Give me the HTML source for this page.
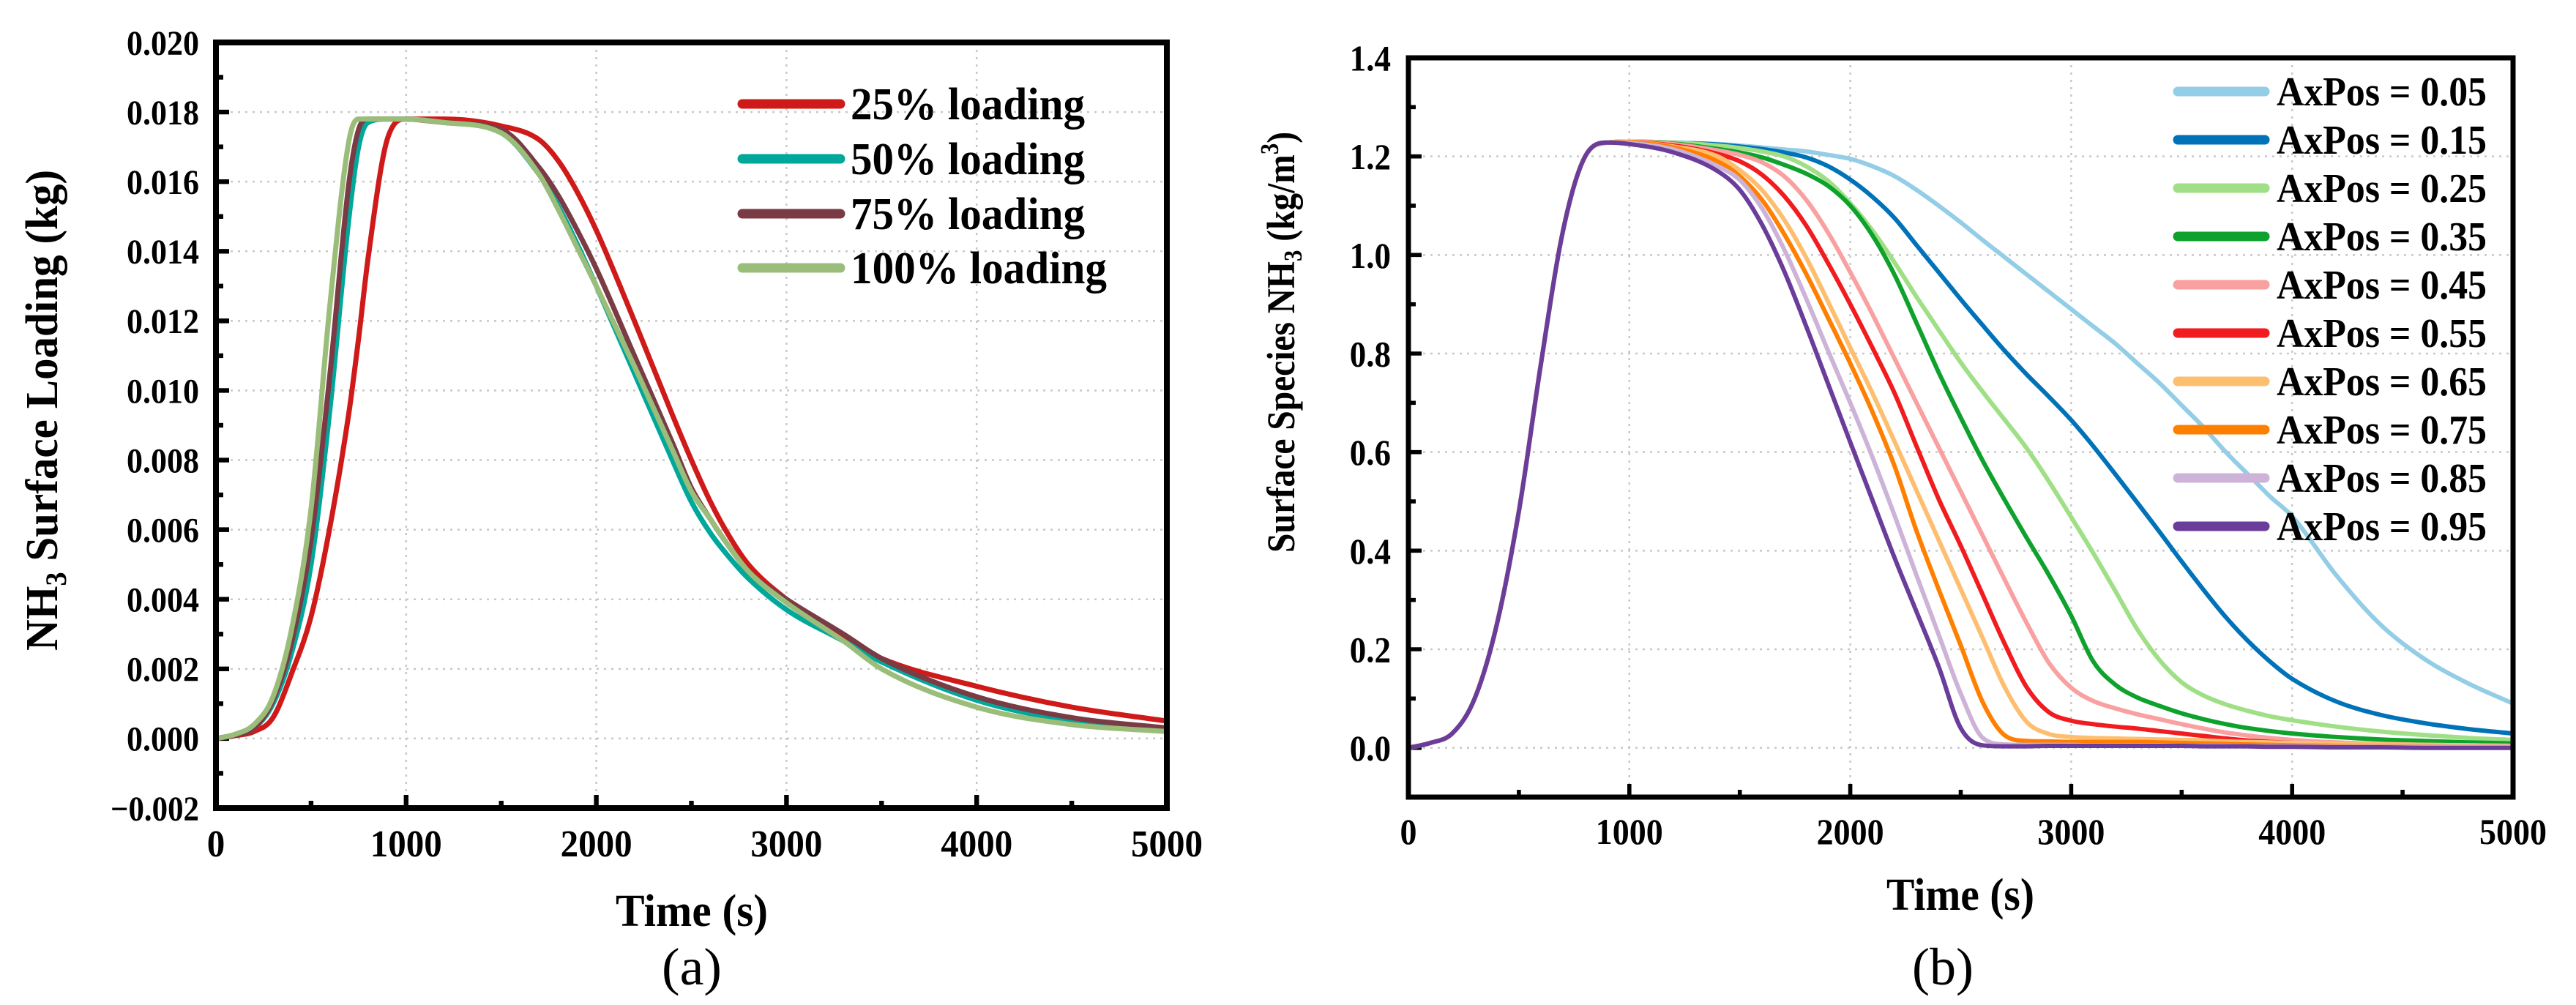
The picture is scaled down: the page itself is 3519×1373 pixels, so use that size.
<!DOCTYPE html>
<html><head><meta charset="utf-8"><title>NH3 surface loading charts</title>
<style>
html,body{margin:0;padding:0;background:#fff;}
svg{display:block;font-family:"Liberation Serif","Times New Roman",serif;}
</style></head>
<body>
<svg id="fig" width="3519" height="1373" viewBox="0 0 3519 1373" xmlns="http://www.w3.org/2000/svg" font-family="Liberation Serif, Times New Roman, serif">
<rect width="3519" height="1373" fill="#fff"/>
<g id="chartA"></g>
<g id="chartB"></g>
</svg>
<script>
// ---------- Chart (a) data ----------
const timesA = [0,100,200,300,400,500,600,700,750,800,900,1000,1200,1500,1700,1800,1900,2000,2200,2400,2500,2600,2700,2800,3000,3300,3500,4000,4500,5000];
const labelsA = ["25% loading","50% loading","75% loading","100% loading"];
const load25 = [0,0.00008,0.0002,0.0006,0.0019,0.0035,0.0061,0.0094,0.0115,0.0138,0.0172,0.0178,0.0178,0.0176,0.0172,0.0166,0.0157,0.0146,0.0120,0.0093,0.0080,0.0068,0.0058,0.0050,0.0040,0.0029,0.0023,0.0015,0.0009,0.0005];
const load50 = [0,0.0001,0.0003,0.0010,0.0025,0.0050,0.0095,0.0150,0.0170,0.0177,0.0178,0.0178,0.0177,0.0174,0.0162,0.0153,0.0142,0.0130,0.0105,0.0080,0.0068,0.0059,0.0052,0.0046,0.0037,0.0028,0.0022,0.0011,0.0005,0.0002];
const load75 = [0,0.0001,0.0003,0.0011,0.0028,0.0057,0.0105,0.0160,0.0175,0.0178,0.0178,0.0178,0.0177,0.0175,0.0164,0.0156,0.0146,0.0135,0.0110,0.0085,0.0072,0.0063,0.0055,0.0048,0.0040,0.0030,0.0023,0.0012,0.0006,0.0003];
const load100 = [0,0.00012,0.0004,0.0012,0.0032,0.0066,0.0125,0.0172,0.0178,0.0178,0.0178,0.0178,0.0177,0.0174,0.0162,0.0152,0.0141,0.0130,0.0107,0.0083,0.0071,0.0063,0.0055,0.0048,0.0039,0.0028,0.0020,0.0009,0.0004,0.0002];
const xTicksA = [0,1000,2000,3000,4000,5000];
const yTicksA = [-0.002,0,0.002,0.004,0.006,0.008,0.010,0.012,0.014,0.016,0.018,0.020];
const yTickLabelsA = ["\u22120.002","0.000","0.002","0.004","0.006","0.008","0.010","0.012","0.014","0.016","0.018","0.020"];

// ---------- Chart (b) data ----------
const timesB = [0,100,200,300,400,500,600,700,800,900,1000,1200,1400,1500,1600,1700,1800,1900,2000,2100,2200,2300,2400,2500,2600,2700,2800,2900,3000,3100,3200,3300,3400,3500,3600,3700,3800,3900,4000,4200,4400,4600,4800,5000];
const riseB = [0,0.01,0.03,0.10,0.25,0.48,0.78,1.05,1.20,1.228];
const labelsB = ["AxPos = 0.05","AxPos = 0.15","AxPos = 0.25","AxPos = 0.35","AxPos = 0.45","AxPos = 0.55","AxPos = 0.65","AxPos = 0.75","AxPos = 0.85","AxPos = 0.95"];
const ax05 = [1.230,1.228,1.225,1.222,1.218,1.214,1.210,1.203,1.195,1.180,1.160,1.132,1.100,1.066,1.030,0.995,0.960,0.925,0.890,0.855,0.820,0.780,0.740,0.695,0.650,0.600,0.555,0.510,0.470,0.350,0.250,0.180,0.130,0.090];
const ax15 = [1.230,1.228,1.224,1.220,1.215,1.208,1.198,1.180,1.153,1.118,1.075,1.020,0.965,0.910,0.857,0.805,0.757,0.712,0.665,0.612,0.555,0.497,0.438,0.378,0.320,0.265,0.217,0.175,0.140,0.094,0.067,0.050,0.038,0.029];
const ax25 = [1.230,1.228,1.222,1.217,1.210,1.200,1.180,1.150,1.105,1.050,0.985,0.915,0.848,0.782,0.722,0.665,0.607,0.540,0.468,0.395,0.318,0.240,0.178,0.133,0.106,0.088,0.075,0.064,0.056,0.043,0.033,0.026,0.020,0.016];
const ax35 = [1.230,1.226,1.215,1.208,1.198,1.183,1.165,1.140,1.100,1.040,0.960,0.862,0.762,0.670,0.582,0.502,0.425,0.350,0.268,0.175,0.128,0.102,0.085,0.070,0.058,0.048,0.040,0.034,0.029,0.022,0.017,0.014,0.011,0.009];
const ax45 = [1.230,1.225,1.212,1.203,1.188,1.160,1.112,1.045,0.965,0.880,0.790,0.700,0.610,0.520,0.430,0.340,0.252,0.172,0.122,0.095,0.080,0.068,0.058,0.048,0.039,0.031,0.025,0.020,0.016,0.011,0.008,0.006,0.005,0.004];
const ax55 = [1.229,1.222,1.205,1.190,1.163,1.120,1.060,0.983,0.900,0.812,0.720,0.612,0.505,0.410,0.310,0.210,0.122,0.072,0.055,0.048,0.043,0.039,0.034,0.029,0.024,0.019,0.015,0.012,0.010,0.007,0.005,0.004,0.003,0.003];
const ax65 = [1.229,1.220,1.200,1.172,1.132,1.072,0.995,0.905,0.812,0.720,0.622,0.522,0.422,0.322,0.222,0.122,0.052,0.028,0.022,0.020,0.019,0.018,0.017,0.016,0.015,0.013,0.012,0.011,0.010,0.008,0.007,0.006,0.005,0.004];
const ax75 = [1.228,1.218,1.190,1.160,1.112,1.043,0.962,0.872,0.780,0.682,0.572,0.440,0.322,0.208,0.092,0.025,0.014,0.013,0.012,0.012,0.012,0.012,0.011,0.010,0.009,0.008,0.007,0.006,0.005,0.004,0.003,0.003,0.002,0.002];
const ax85 = [1.227,1.214,1.180,1.152,1.095,1.012,0.912,0.805,0.700,0.590,0.472,0.350,0.230,0.110,0.020,0.007,0.006,0.006,0.006,0.005,0.005,0.005,0.005,0.004,0.004,0.004,0.003,0.003,0.003,0.002,0.002,0.002,0.002,0.002];
const ax95 = [1.225,1.208,1.170,1.132,1.062,0.968,0.856,0.738,0.620,0.503,0.386,0.276,0.165,0.040,0.005,0.003,0.003,0.004,0.004,0.004,0.004,0.004,0.004,0.004,0.003,0.003,0.003,0.002,0.002,0.001,0.001,0.000,0.000,0.000];
const xTicksB = [0,1000,2000,3000,4000,5000];
const yTicksB = [0,0.2,0.4,0.6,0.8,1.0,1.2,1.4];
const yTickLabelsB = ["0.0","0.2","0.4","0.6","0.8","1.0","1.2","1.4"];

const NS = "http://www.w3.org/2000/svg";
const FF = "Liberation Serif, Times New Roman, serif";
function mk(parent, tag, attrs, text){
  const e = document.createElementNS(NS, tag);
  for (const k in attrs) e.setAttribute(k, attrs[k]);
  if (tag === "text") e.setAttribute("font-family", FF);
  if (text !== undefined) e.textContent = text;
  parent.appendChild(e);
  return e;
}
function smoothPath(pts){
  const n = pts.length; if (n < 2) return "";
  const dx=[],dy=[],m=[],t=[];
  for (let i=0;i<n-1;i++){dx.push(pts[i+1][0]-pts[i][0]);dy.push(pts[i+1][1]-pts[i][1]);m.push(dy[i]/dx[i]);}
  t[0]=m[0]; t[n-1]=m[n-2];
  for (let i=1;i<n-1;i++){ if (m[i-1]*m[i]<=0) t[i]=0; else t[i]=(m[i-1]+m[i])/2; }
  for (let i=0;i<n-1;i++){ if (m[i]===0){t[i]=0;t[i+1]=0;continue;} const a=t[i]/m[i], b=t[i+1]/m[i]; const s=a*a+b*b; if (s>9){const k=3/Math.sqrt(s); t[i]=k*a*m[i]; t[i+1]=k*b*m[i];} }
  let d = "M"+pts[0][0].toFixed(1)+","+pts[0][1].toFixed(1);
  for (let i=0;i<n-1;i++){
    const h=dx[i];
    d += " C"+(pts[i][0]+h/3).toFixed(1)+","+(pts[i][1]+t[i]*h/3).toFixed(1)+" "+(pts[i+1][0]-h/3).toFixed(1)+","+(pts[i+1][1]-t[i+1]*h/3).toFixed(1)+" "+pts[i+1][0].toFixed(1)+","+pts[i+1][1].toFixed(1);
  }
  return d;
}

function drawAxes(g, cfg){
  const {x0,x1,y0,y1,xmin,xmax,ymin,ymax,xTicks,yTicks,yLabels,minorX,minorY,axisW,tickFont,xLabFont,yLabRight,xLabY,yCharW,xCharW} = cfg;
  const X = v => x0 + (v - xmin) / (xmax - xmin) * (x1 - x0);
  const Y = v => y1 - (v - ymin) / (ymax - ymin) * (y1 - y0);
  const grid = mk(g,"g",{});
  
  
  xTicks.forEach(v=>{ if (v>xmin && v<xmax) mk(grid,"line",{x1:X(v),x2:X(v),y1:y0,y2:y1,stroke:"#c8c8c8","stroke-width":2.5,"stroke-dasharray":"3 7"}); });
  yTicks.forEach(v=>{ if (v>ymin && v<ymax) mk(grid,"line",{x1:x0,x2:x1,y1:Y(v),y2:Y(v),stroke:"#c8c8c8","stroke-width":2.5,"stroke-dasharray":"3 7"}); });
  const ticks = mk(g,"g",{stroke:"#000","stroke-width":axisW*0.8});
  
  
  xTicks.forEach(v=>mk(ticks,"line",{x1:X(v),x2:X(v),y1:y1,y2:y1-18}));
  minorX.forEach(v=>mk(ticks,"line",{x1:X(v),x2:X(v),y1:y1,y2:y1-10}));
  yTicks.forEach(v=>mk(ticks,"line",{x1:x0,x2:x0+18,y1:Y(v),y2:Y(v)}));
  minorY.forEach(v=>mk(ticks,"line",{x1:x0,x2:x0+10,y1:Y(v),y2:Y(v)}));
  const xl = mk(g,"g",{"font-weight":"bold","font-size":xLabFont,"text-anchor":"middle"});
  
  
  xTicks.forEach(v=>{const s=String(v); mk(xl,"text",{x:X(v),y:xLabY,textLength:s.length*xCharW,lengthAdjust:"spacingAndGlyphs"},s);});
  const yl = mk(g,"g",{"font-weight":"bold","font-size":tickFont,"text-anchor":"end"});
  
  
  yTicks.forEach((v,i)=>{const s=yLabels[i]; const w=s.replace(/[.]/g,"").length*yCharW + (s.includes(".")?yCharW*0.5:0); mk(yl,"text",{x:yLabRight,y:Y(v)+tickFont*0.35,textLength:w,lengthAdjust:"spacingAndGlyphs"},s);});
  return {X,Y};
}
function frame(g, x0,x1,y0,y1,w){
  const f = mk(g,"rect",{x:x0,y:y0,width:x1-x0,height:y1-y0,fill:"none",stroke:"#000","stroke-width":w});
  
  
}

// ---------- Chart A ----------
(function(){
  const g = document.getElementById("chartA");
  const x0=295,x1=1594,y0=58,y1=1104;
  const minorY=[]; for(let i=0;i<11;i++) minorY.push(-0.001+0.002*i);
  const {X,Y} = drawAxes(g,{x0,x1,y0,y1,xmin:0,xmax:5000,ymin:-0.002,ymax:0.020,xTicks:xTicksA,yTicks:yTicksA,yLabels:yTickLabelsA,minorX:[500,1500,2500,3500,4500],minorY,axisW:8,tickFont:48,xLabFont:52,yLabRight:272,xLabY:1170,yCharW:22,xCharW:24.5});
  const series=[load25,load50,load75,load100];
  const colors=["#cf1a1a","#00a89c","#7a3b45","#9bbd7a"];
  const names=["series-25-loading","series-50-loading","series-75-loading","series-100-loading"];
  const sg = mk(g,"g",{fill:"none","stroke-width":7,"stroke-linejoin":"round","stroke-linecap":"round"});
  
  
  series.forEach((s,i)=>{
    const p = mk(sg,"path",{d:smoothPath(timesA.map((t,j)=>[X(t),Y(s[j])])),stroke:colors[i]});
    
    
  });
  frame(g,x0,x1,y0,y1,8);
  const lg = mk(g,"g",{});
  
  
  const ly=[142,217,292,366];
  labelsA.forEach((lab,i)=>{
    const e = mk(lg,"g",{});
    
    
    mk(e,"line",{x1:1014,x2:1148,y1:ly[i],y2:ly[i],stroke:colors[i],"stroke-width":13,"stroke-linecap":"round"});
    const tw = [320,320,320,350][i];
    mk(e,"text",{x:1162,y:ly[i]+21,"font-size":62,"font-weight":"bold",textLength:tw,lengthAdjust:"spacingAndGlyphs"},lab);
  });
  const xt = mk(g,"text",{x:945,y:1265,"font-size":62,"font-weight":"bold","text-anchor":"middle",textLength:208,lengthAdjust:"spacingAndGlyphs"},"Time (s)");
  
  
  const yt = mk(g,"text",{transform:"translate(78,889) rotate(-90)","font-size":62,"font-weight":"bold",textLength:657,lengthAdjust:"spacingAndGlyphs"});
  
  
  yt.innerHTML = 'NH<tspan font-size="40" dy="12">3</tspan><tspan dy="-12"> Surface Loading (kg)</tspan>';
  const cap = mk(g,"text",{x:945,y:1345,"font-size":72,"text-anchor":"middle",textLength:82,lengthAdjust:"spacingAndGlyphs"},"(a)");
  
  
})();

// ---------- Chart B ----------
(function(){
  const g = document.getElementById("chartB");
  const x0=1924,x1=3433,y0=79,y1=1089;
  const minorY=[]; for(let i=0;i<7;i++) minorY.push(0.1+0.2*i);
  const {X,Y} = drawAxes(g,{x0,x1,y0,y1,xmin:0,xmax:5000,ymin:-0.1,ymax:1.4,xTicks:xTicksB,yTicks:yTicksB,yLabels:yTickLabelsB,minorX:[500,1500,2500,3500,4500],minorY,axisW:7,tickFont:50,xLabFont:50,yLabRight:1900,xLabY:1153,yCharW:22.5,xCharW:23});
  const series=[ax05,ax15,ax25,ax35,ax45,ax55,ax65,ax75,ax85,ax95];
  const colors=["#93cde6","#0072b8","#9fdf85","#0ea22d","#f9a0a0","#f01c1f","#fdbf6f","#ff7f00","#cdb3d8","#6b3d9a"];
  const sg = mk(g,"g",{fill:"none","stroke-width":6,"stroke-linejoin":"round","stroke-linecap":"round"});
  
  
  series.forEach((s,i)=>{
    const vals = riseB.concat(s);
    const p = mk(sg,"path",{d:smoothPath(timesB.map((t,j)=>[X(t),Y(vals[j])])),stroke:colors[i]});
    
    
  });
  frame(g,x0,x1,y0,y1,7);
  const lg = mk(g,"g",{});
  
  
  labelsB.forEach((lab,i)=>{
    const yy = 125 + i*66;
    const e = mk(lg,"g",{});
    
    
    mk(e,"line",{x1:2975,x2:3094,y1:yy,y2:yy,stroke:colors[i],"stroke-width":13,"stroke-linecap":"round"});
    mk(e,"text",{x:3110,y:yy+19,"font-size":56,"font-weight":"bold",textLength:287,lengthAdjust:"spacingAndGlyphs"},lab);
  });
  const xt = mk(g,"text",{x:2678,y:1243,"font-size":62,"font-weight":"bold","text-anchor":"middle",textLength:202,lengthAdjust:"spacingAndGlyphs"},"Time (s)");
  
  
  const yt = mk(g,"text",{transform:"translate(1768,755) rotate(-90)","font-size":54,"font-weight":"bold",textLength:575,lengthAdjust:"spacingAndGlyphs"});
  
  
  yt.innerHTML = 'Surface Species NH<tspan font-size="35" dy="10">3</tspan><tspan dy="-10"> (kg/m</tspan><tspan font-size="35" dy="-22">3</tspan><tspan dy="22">)</tspan>';
  const cap = mk(g,"text",{x:2654,y:1345,"font-size":72,"text-anchor":"middle",textLength:84,lengthAdjust:"spacingAndGlyphs"},"(b)");
  
  
})();
</script>
</body></html>
